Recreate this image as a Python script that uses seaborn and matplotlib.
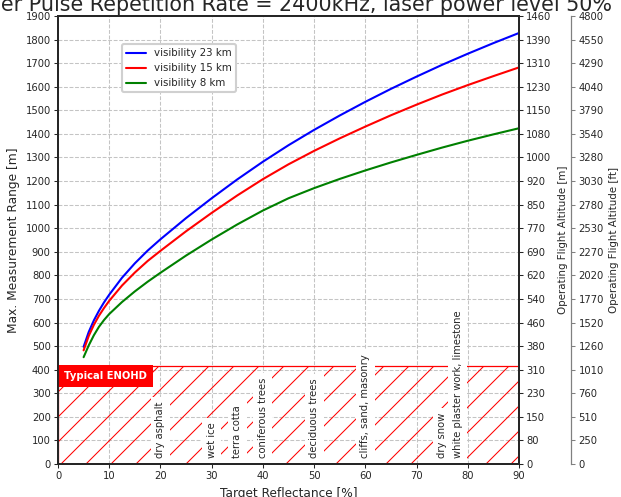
import matplotlib
matplotlib.use("Agg")
import matplotlib.pyplot as plt
import numpy as np
import pandas as pd
import seaborn as sns
from matplotlib.patches import Rectangle

# ---------------- data ----------------
reflectance = [5, 6, 7, 8, 9, 10, 12.5, 15, 17.5, 20, 25, 30, 35, 40, 45, 50,
               55, 60, 65, 70, 75, 80, 85, 90]
range_vis23 = [497, 560, 609, 650, 686, 718, 790, 851, 905, 953, 1043, 1127, 1207, 1282,
               1352, 1417, 1478, 1536, 1591, 1643, 1693, 1740, 1785, 1828]
range_vis15 = [482, 543, 590, 629, 662, 692, 757, 812, 861, 904, 987, 1065, 1139, 1208,
               1271, 1328, 1381, 1431, 1479, 1524, 1567, 1607, 1645, 1682]
range_vis8 = [453, 503, 546, 582, 611, 636, 687, 732, 773, 811, 884, 952, 1016, 1075,
              1127, 1170, 1209, 1245, 1279, 1311, 1342, 1371, 1398, 1424]
series_labels = ["visibility 23 km", "visibility 15 km", "visibility 8 km"]
series_colors = ["blue", "red", "green"]

range_ticks = list(range(0, 2000, 100))
alt_m_labels = ["0", "80", "150", "230", "310", "380", "460", "540", "620", "690",
                "770", "850", "920", "1000", "1080", "1150", "1230", "1310", "1390", "1460"]
alt_ft_labels = ["0", "250", "510", "760", "1010", "1260", "1520", "1770", "2020", "2270",
                 "2530", "2780", "3030", "3280", "3540", "3790", "4040", "4290", "4550", "4800"]
x_ticks = list(range(0, 100, 10))

enohd_height = 415
materials = ["dry asphalt", "wet ice", "terra cotta", "coniferous trees", "deciduous trees",
             "cliffs, sand, masonry", "dry snow", "white plaster work, limestone"]
material_x = [20, 30, 35, 40, 50, 60, 75, 78]

title = "Laser Pulse Repetition Rate = 2400kHz, laser power level 50%"

# ---------------- plot ----------------
sns.set_theme(style="ticks")
plt.rcParams["hatch.linewidth"] = 0.5
plt.rcParams["font.family"] = ["DejaVu Sans"]

DPI = 150
fig = plt.figure(figsize=(621 / DPI, 497 / DPI), dpi=DPI)
ax = fig.add_axes([58 / 621, 33 / 497, 461 / 621, 448 / 497])

n = len(reflectance)
df = pd.DataFrame({
    "reflectance": reflectance * 3,
    "range": range_vis23 + range_vis15 + range_vis8,
    "series": [series_labels[0]] * n + [series_labels[1]] * n + [series_labels[2]] * n,
})
sns.lineplot(data=df, x="reflectance", y="range", hue="series",
             palette=dict(zip(series_labels, series_colors)), linewidth=1.0, ax=ax, zorder=4)

ax.set_xlim(0, 90)
ax.set_ylim(0, 1900)
ax.set_xticks(x_ticks)
ax.set_yticks(range_ticks)
ax.grid(True, linestyle="--", color="#c4c4c4", linewidth=0.5)
ax.set_axisbelow(True)

tick_fs = 4.8
ax.tick_params(axis="both", labelsize=tick_fs, length=2, width=0.5, pad=1.5, colors=".15")
ax.set_xlabel("Target Reflectance [%]", fontsize=5.8, labelpad=2.5, color=".15")
ax.set_ylabel("Max. Measurement Range [m]", fontsize=5.9, labelpad=2.5, color=".15")
for s in ax.spines.values():
    s.set_linewidth(0.9)
    s.set_color(".15")

# hatched ENOHD area
ax.add_patch(Rectangle((0, 0), 90, enohd_height, fill=False, hatch="//",
                       edgecolor="red", linewidth=0.6, zorder=2))
ax.text(1.2, 394, "Typical ENOHD", color="white", fontweight="bold", fontsize=4.8,
        ha="left", va="top", zorder=5,
        bbox=dict(boxstyle="square,pad=0.6", facecolor="red", edgecolor="none"))
for name, xv in zip(materials, material_x):
    ax.text(xv, 25, name, rotation=90, ha="center", va="bottom", fontsize=4.8,
            color=".15", zorder=5,
            bbox=dict(boxstyle="square,pad=0.45", facecolor="white", edgecolor="none"))

ax.legend(loc="upper left", bbox_to_anchor=(0.138, 0.9375), borderaxespad=0,
          fontsize=4.9, frameon=True, edgecolor="#d0d0d0", framealpha=1)

ax.set_title(title, fontsize=9.9, pad=2.6, color=".15")

# right axis: altitude in m
ax2 = ax.twinx()
ax2.set_ylim(ax.get_ylim())
ax2.set_yticks(range_ticks)
ax2.set_yticklabels(alt_m_labels)
ax2.tick_params(axis="y", labelsize=tick_fs, length=2, width=0.5, pad=1.5, colors=".15")
ax2.set_ylabel("Operating Flight Altitude [m]", fontsize=4.9, color=".15", labelpad=3)
for s in ax2.spines.values():
    s.set_linewidth(0.9)
    s.set_color(".15")

# second right axis: altitude in ft
ax3 = ax.twinx()
ax3.set_ylim(ax.get_ylim())
ax3.spines["right"].set_position(("outward", 25))
for k in ["left", "top", "bottom"]:
    ax3.spines[k].set_visible(False)
ax3.spines["right"].set_color("grey")
ax3.spines["right"].set_linewidth(0.6)
ax3.set_yticks(range_ticks)
ax3.set_yticklabels(alt_ft_labels)
ax3.tick_params(axis="y", labelsize=tick_fs, length=2, width=0.5, pad=1.5,
                color="grey", labelcolor=".15")
ax3.set_ylabel("Operating Flight Altitude [ft]", fontsize=4.9, color=".15", labelpad=2.5)

fig.savefig("out.png", dpi=DPI)
